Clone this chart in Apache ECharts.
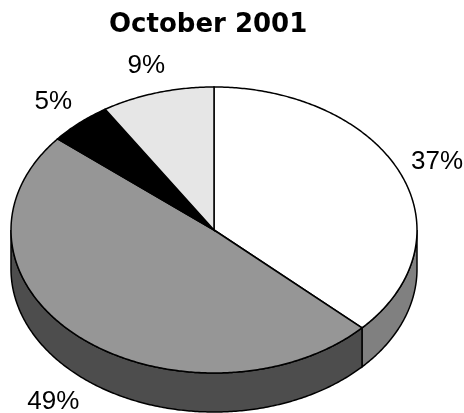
<!DOCTYPE html>
<html>
<head>
<meta charset="utf-8">
<script src="https://cdn.jsdelivr.net/npm/echarts@6/dist/echarts.min.js"></script>
<style>
html,body{margin:0;padding:0;background:#ffffff;}
#main{width:464px;height:413px;}
</style>
</head>
<body>
<div id="main"></div>
<script>
// slice data, clockwise from 12 o'clock
var categories = ['Slice 1', 'Slice 2', 'Slice 3', 'Slice 4'];
var values = [37, 49, 5, 9];
var labels = ['37%', '49%', '5%', '9%'];

// colours: top face / side wall
var topColors = ['#ffffff', '#969696', '#000000', '#e6e6e6'];
var sideColors = ['#808080', '#4d4d4d', '#000000', '#b0b0b0'];

var cx = 214, cy = 230, rx = 203, ry = 143, depth = 39;
var total = values.reduce(function(a, b){ return a + b; }, 0);

function pt(t, dy){
    return [cx + rx * Math.sin(t), cy - ry * Math.cos(t) + dy];
}
function arc(a0, a1, dy){
    var pts = [];
    var n = Math.max(2, Math.ceil((a1 - a0) / 0.01));
    for (var k = 0; k <= n; k++) {
        pts.push(pt(a0 + (a1 - a0) * k / n, dy));
    }
    return pts;
}

function renderItem(params, api){
    var idx = params.dataIndex;
    var before = 0;
    for (var i = 0; i < idx; i++) before += values[i];
    var v = api.value(0);
    var a0 = before / total * Math.PI * 2;
    var a1 = (before + v) / total * Math.PI * 2;
    var children = [];

    // side wall, only the front half shows
    var s0 = Math.max(a0, Math.PI / 2), s1 = Math.min(a1, Math.PI * 1.5);
    if (s1 > s0) {
        var side = arc(s0, s1, 0).concat(arc(s0, s1, depth).reverse());
        children.push({
            type: 'polygon',
            shape: {points: side},
            style: {fill: sideColors[idx], stroke: '#000', lineWidth: 1.5}
        });
    }

    // top face
    var top = [[cx, cy]].concat(arc(a0, a1, 0));
    children.push({
        type: 'polygon',
        shape: {points: top},
        style: {fill: topColors[idx], stroke: '#000', lineWidth: 1.5}
    });

    // label outside the slice
    var m = (a0 + a1) / 2;
    var lx = cx + (rx + 40) * Math.sin(m);
    var ly = cy - (ry + 28) * Math.cos(m) + (Math.cos(m) < 0 ? depth + 5 : 0);
    children.push({
        type: 'text',
        style: {
            text: labels[idx], x: lx, y: ly,
            align: 'center', verticalAlign: 'middle',
            fill: '#000', fontSize: 26, fontFamily: 'Liberation Sans'
        }
    });

    return {type: 'group', children: children};
}

var myChart = echarts.init(document.getElementById('main'));
var option = {
    animation: false,
    backgroundColor: '#ffffff',
    title: {
        text: 'October 2001',
        left: 104,
        top: 7,
        textStyle: {
            fontFamily: 'DejaVu Sans',
            fontWeight: 'bold',
            fontSize: 26,
            color: '#000'
        }
    },
    series: [{
        type: 'custom',
        coordinateSystem: 'none',
        renderItem: renderItem,
        data: values.map(function(v, i){ return {name: categories[i], value: [v]}; })
    }]
};
myChart.setOption(option);
</script>
</body>
</html>
